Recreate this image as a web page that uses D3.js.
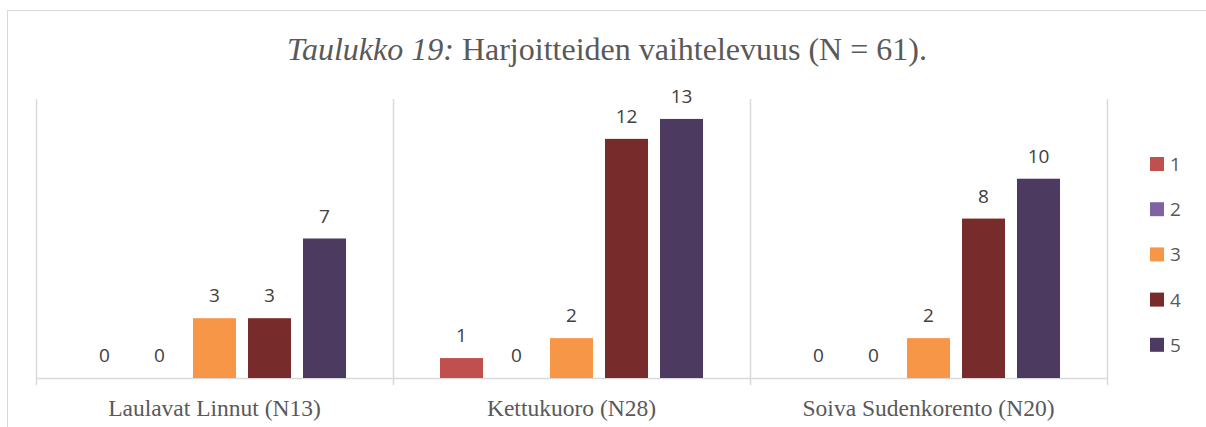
<!DOCTYPE html>
<html>
<head>
<meta charset="utf-8">
<script src="https://cdn.jsdelivr.net/npm/d3@7"></script>
<style>
  body { margin: 0; background: #fff; }
  svg { display: block; }
</style>
</head>
<body>
<svg id="chart" width="1206" height="427"></svg>
<script>
const categories = ['Laulavat Linnut (N13)', 'Kettukuoro (N28)', 'Soiva Sudenkorento (N20)'];
const seriesNames = ['1', '2', '3', '4', '5'];
const series1 = [0, 1, 0];
const series2 = [0, 0, 0];
const series3 = [3, 2, 2];
const series4 = [3, 12, 8];
const series5 = [7, 13, 10];
const colors = ['#c0504d', '#8064a2', '#f79646', '#772c2b', '#4c3a60'];

const allSeries = [series1, series2, series3, series4, series5];
const svg = d3.select('#chart');

// chart frame (right and bottom edges run off the picture)
svg.append('rect').attr('x', 7.5).attr('y', 10.5).attr('width', 1220).attr('height', 430)
  .attr('fill', 'none').attr('stroke', '#d9d9d9');

const title = svg.append('text').attr('x', 607).attr('y', 60).attr('text-anchor', 'middle')
  .attr('font-family', 'Liberation Serif, serif').attr('font-size', 32).attr('fill', '#595959');
title.append('tspan').attr('font-style', 'italic').text('Taulukko 19:');
title.append('tspan').text(' Harjoitteiden vaihtelevuus (N = 61).');

const plotLeft = 36, plotRight = 1107, plotTop = 99, base = 378;
const x0 = d3.scaleBand().domain(categories).range([plotLeft, plotRight]).padding(0);
const x1 = d3.scaleBand().domain(seriesNames).range([0, x0.bandwidth()])
  .paddingInner(0.218).paddingOuter(0.854);
const y = d3.scaleLinear().domain([0, 14]).range([base, plotTop]);

// category separators
const seps = [plotLeft, ...categories.map(c => x0(c) + x0.bandwidth())];
svg.append('g').selectAll('line').data(seps).join('line')
  .attr('x1', d => d + 0.5).attr('x2', d => d + 0.5)
  .attr('y1', plotTop).attr('y2', base + 7)
  .attr('stroke', '#d9d9d9').attr('stroke-width', 1.5);

svg.append('line').attr('x1', plotLeft).attr('x2', plotRight).attr('y1', base + 0.5).attr('y2', base + 0.5)
  .attr('stroke', '#d9d9d9').attr('stroke-width', 1.5);

const cells = [];
categories.forEach((c, ci) => seriesNames.forEach((s, si) => cells.push({ c, s, si, v: allSeries[si][ci] })));

svg.append('g').selectAll('rect').data(cells).join('rect')
  .attr('x', d => x0(d.c) + x1(d.s)).attr('width', x1.bandwidth())
  .attr('y', d => y(d.v)).attr('height', d => base - y(d.v))
  .attr('fill', d => colors[d.si]);

svg.append('g').selectAll('text').data(cells).join('text')
  .attr('x', d => x0(d.c) + x1(d.s) + x1.bandwidth() / 2)
  .attr('y', d => y(d.v) - 16)
  .attr('text-anchor', 'middle')
  .attr('font-family', 'Open Sans, sans-serif').attr('font-size', 19).attr('fill', '#404040')
  .text(d => d.v);

svg.append('g').selectAll('text').data(categories).join('text')
  .attr('x', d => x0(d) + x0.bandwidth() / 2).attr('y', 416)
  .attr('text-anchor', 'middle')
  .attr('font-family', 'Liberation Serif, serif').attr('font-size', 23.5).attr('fill', '#595959')
  .text(d => d);

const legend = svg.append('g').selectAll('g').data(seriesNames).join('g')
  .attr('transform', (d, i) => `translate(1150, ${157 + i * 45.2})`);
legend.append('rect').attr('width', 14).attr('height', 14).attr('fill', (d, i) => colors[i]);
legend.append('text').attr('x', 20).attr('y', 14)
  .attr('font-family', 'Open Sans, sans-serif').attr('font-size', 19).attr('fill', '#595959')
  .text(d => d);
</script>
</body>
</html>
